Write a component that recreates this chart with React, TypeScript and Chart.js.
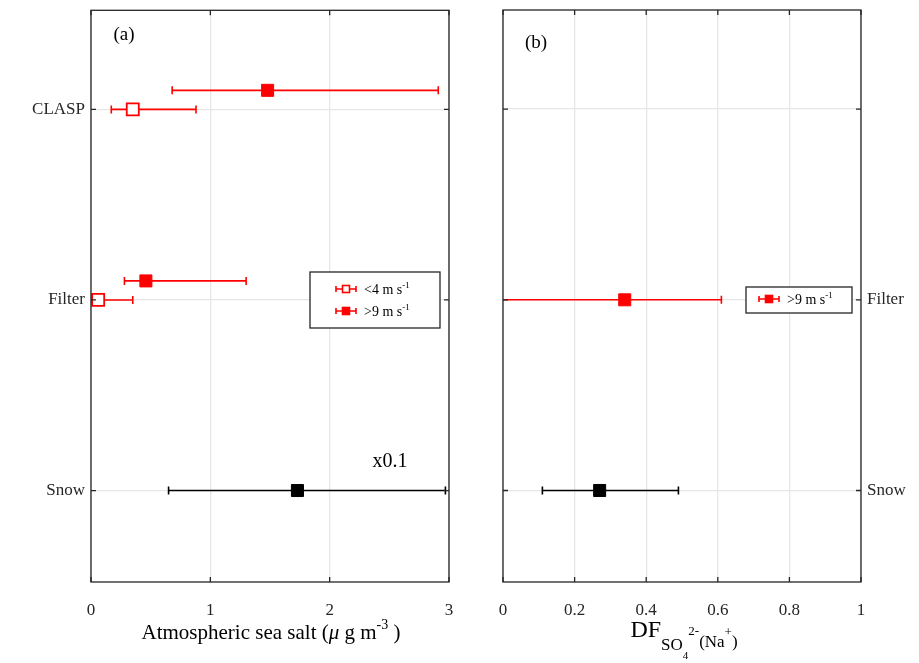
import React, { useEffect, useRef } from 'react';
import { Chart, registerables } from 'chart.js';

Chart.register(...registerables);

const FONT = 'Liberation Serif';
const RED = '#ff0000';

// y positions: Snow=1, Filter=2, CLASP=3; >9 m/s markers offset up by 0.1
const catLabelsA: Record<number, string> = { 1: 'Snow', 2: 'Filter', 3: 'CLASP' };
const catLabelsB: Record<number, string> = { 1: 'Snow', 2: 'Filter', 3: '' };
const offsetHigh = 0.1;

// panel (a): atmospheric sea salt
const aHighX = [1.48, 0.46];
const aHighY = [3, 2];
const aHighLo = [0.68, 0.28];
const aHighHi = [2.91, 1.3];
const aLowX = [0.35, 0.06];
const aLowY = [3, 2];
const aLowLo = [0.17, 0.0];
const aLowHi = [0.88, 0.35];
const aSnowX = [1.73];
const aSnowLo = [0.65];
const aSnowHi = [2.97];

// panel (b): DF
const bHighX = [0.34];
const bHighY = [2];
const bHighLo = [0.0];
const bHighHi = [0.61];
const bSnowX = [0.27];
const bSnowLo = [0.11];
const bSnowHi = [0.49];

type Seg = { t: string; size: number; dy: number; italic?: boolean };

function drawRich(ctx: CanvasRenderingContext2D, segs: Seg[], cx: number, y: number) {
  const font = (s: Seg) => `${s.italic ? 'italic ' : ''}${s.size}px ${FONT}`;
  let w = 0;
  segs.forEach((s) => { ctx.font = font(s); w += ctx.measureText(s.t).width; });
  let x = cx - w / 2;
  ctx.fillStyle = '#000';
  ctx.textBaseline = 'alphabetic';
  ctx.textAlign = 'left';
  segs.forEach((s) => {
    ctx.font = font(s);
    ctx.fillText(s.t, x, y + s.dy);
    x += ctx.measureText(s.t).width;
  });
}

function errorBars(chart: any) {
  const { ctx, scales } = chart;
  chart.data.datasets.forEach((ds: any) => {
    if (!ds.lo) return;
    ctx.save();
    ctx.strokeStyle = ds.borderColor;
    ctx.lineWidth = 1.6;
    ds.data.forEach((p: any, i: number) => {
      const y = scales.y.getPixelForValue(p.y);
      const x0 = Math.max(scales.x.getPixelForValue(ds.lo[i]), chart.chartArea.left);
      const x1 = scales.x.getPixelForValue(ds.hi[i]);
      ctx.beginPath();
      ctx.moveTo(x0, y); ctx.lineTo(x1, y);
      if (ds.lo[i] > scales.x.min) { ctx.moveTo(x0, y - 4); ctx.lineTo(x0, y + 4); }
      ctx.moveTo(x1, y - 4); ctx.lineTo(x1, y + 4);
      ctx.stroke();
    });
    ctx.restore();
  });
}

function legendItem(ctx: CanvasRenderingContext2D, x: number, y: number, filled: boolean, label: Seg[]) {
  ctx.save();
  ctx.strokeStyle = RED;
  ctx.lineWidth = 1.6;
  ctx.beginPath();
  ctx.moveTo(x, y); ctx.lineTo(x + 20, y);
  ctx.moveTo(x, y - 3); ctx.lineTo(x, y + 3);
  ctx.moveTo(x + 20, y - 3); ctx.lineTo(x + 20, y + 3);
  ctx.stroke();
  ctx.fillStyle = filled ? RED : '#fff';
  ctx.fillRect(x + 6.5, y - 3.5, 7, 7);
  ctx.strokeRect(x + 6.5, y - 3.5, 7, 7);
  ctx.restore();
  let w = 0;
  label.forEach((s) => { ctx.font = `${s.size}px ${FONT}`; w += ctx.measureText(s.t).width; });
  drawRich(ctx, label, x + 28 + w / 2, y + 5);
}

const boxPlugin = (extra: (ctx: CanvasRenderingContext2D, chart: any) => void) => ({
  id: 'box',
  beforeDatasetsDraw(chart: any) { errorBars(chart); },
  afterDraw(chart: any) {
    const { ctx, chartArea: a, scales } = chart;
    ctx.save();
    ctx.strokeStyle = '#262626';
    ctx.lineWidth = 1.3;
    ctx.strokeRect(a.left, a.top, a.right - a.left, a.bottom - a.top);
    ctx.beginPath();
    scales.x.ticks.forEach((t: any) => {
      const x = scales.x.getPixelForValue(t.value);
      ctx.moveTo(x, a.bottom); ctx.lineTo(x, a.bottom - 5);
      ctx.moveTo(x, a.top); ctx.lineTo(x, a.top + 5);
    });
    [1, 2, 3].forEach((v) => {
      const y = scales.y.getPixelForValue(v);
      ctx.moveTo(a.left, y); ctx.lineTo(a.left + 5, y);
      ctx.moveTo(a.right, y); ctx.lineTo(a.right - 5, y);
    });
    ctx.stroke();
    ctx.restore();
    extra(ctx, chart);
  },
});

function yScale(position: 'left' | 'right', width: number, labels: Record<number, string>) {
  return {
    position,
    min: 0.52,
    max: 3.52,
    afterFit: (s: any) => { s.width = width; s.paddingTop = 0; s.paddingBottom = 0; },
    afterBuildTicks: (s: any) => { s.ticks = [1, 2, 3].map((v) => ({ value: v })); },
    ticks: {
      callback: (v: any) => labels[v] ?? '',
      color: '#262626',
      font: { family: FONT, size: 17 },
      padding: 6,
    },
    grid: { color: '#e6e6e6', drawTicks: false, lineWidth: 1.3 },
    border: { display: false },
  };
}

function xScale(max: number, step: number) {
  return {
    type: 'linear' as const,
    min: 0,
    max,
    afterFit: (s: any) => { s.height = 81; s.paddingLeft = 0; s.paddingRight = 0; },
    ticks: {
      stepSize: step,
      color: '#262626',
      font: { family: FONT, size: 17 },
      padding: 18,
      callback: (v: any) => String(Math.round(v * 10) / 10),
    },
    grid: { color: '#e6e6e6', drawTicks: false, lineWidth: 1.3 },
    border: { display: false },
  };
}

function pts(xs: number[], ys: number[], dy: number) {
  return xs.map((x, i) => ({ x, y: ys[i] + dy }));
}

const ChartA = () => {
  const ref = useRef<HTMLCanvasElement>(null);
  useEffect(() => {
    if (!ref.current) return () => {};
    const chart = new Chart(ref.current, {
      type: 'scatter',
      data: {
        datasets: [
          { data: pts(aLowX, aLowY, 0), lo: aLowLo, hi: aLowHi, borderColor: RED, backgroundColor: '#fff', pointStyle: 'rect', pointRadius: 8.5, borderWidth: 1.8 } as any,
          { data: pts(aHighX, aHighY, offsetHigh), lo: aHighLo, hi: aHighHi, borderColor: RED, backgroundColor: RED, pointStyle: 'rect', pointRadius: 8.5, borderWidth: 1 } as any,
          { data: pts(aSnowX, [1], 0), lo: aSnowLo, hi: aSnowHi, borderColor: '#000', backgroundColor: '#000', pointStyle: 'rect', pointRadius: 8.5, borderWidth: 1 } as any,
        ],
      },
      options: {
        animation: false,
        responsive: false,
        layout: { padding: { top: 10, right: 21, left: 0, bottom: 0 } },
        plugins: { legend: { display: false }, tooltip: { enabled: false } },
        scales: { x: xScale(3, 1), y: yScale('left', 91, catLabelsA) as any },
      },
      plugins: [boxPlugin((ctx) => {
        drawRich(ctx, [{ t: '(a)', size: 19, dy: 0 }], 124, 40);
        drawRich(ctx, [{ t: 'x0.1', size: 20, dy: 0 }], 390, 467);
        ctx.save();
        ctx.fillStyle = '#fff';
        ctx.strokeStyle = '#262626';
        ctx.lineWidth = 1.3;
        ctx.fillRect(310, 272, 130, 56);
        ctx.strokeRect(310, 272, 130, 56);
        ctx.restore();
        legendItem(ctx, 336, 289, false, [{ t: '<4 m s', size: 14, dy: 0 }, { t: '-1', size: 9, dy: -6 }]);
        legendItem(ctx, 336, 311, true, [{ t: '>9 m s', size: 14, dy: 0 }, { t: '-1', size: 9, dy: -6 }]);
        drawRich(ctx, [
          { t: 'Atmospheric sea salt (', size: 21, dy: 0 },
          { t: 'μ', size: 21, dy: 0, italic: true },
          { t: ' g m', size: 21, dy: 0 },
          { t: '-3', size: 14, dy: -10 },
          { t: ' )', size: 21, dy: 0 },
        ], 271, 639);
      })],
    });
    return () => chart.destroy();
  }, []);
  return <canvas ref={ref} width={470} height={663} style={{ position: 'absolute', left: 0, top: 0 }} />;
};

const ChartB = () => {
  const ref = useRef<HTMLCanvasElement>(null);
  useEffect(() => {
    if (!ref.current) return () => {};
    const chart = new Chart(ref.current, {
      type: 'scatter',
      data: {
        datasets: [
          { data: pts(bHighX, bHighY, 0), lo: bHighLo, hi: bHighHi, borderColor: RED, backgroundColor: RED, pointStyle: 'rect', pointRadius: 8.5, borderWidth: 1 } as any,
          { data: pts(bSnowX, [1], 0), lo: bSnowLo, hi: bSnowHi, borderColor: '#000', backgroundColor: '#000', pointStyle: 'rect', pointRadius: 8.5, borderWidth: 1 } as any,
        ],
      },
      options: {
        animation: false,
        responsive: false,
        layout: { padding: { top: 10, left: 43, right: 0, bottom: 0 } },
        plugins: { legend: { display: false }, tooltip: { enabled: false } },
        scales: { x: xScale(1, 0.2), y: yScale('right', 58, catLabelsB) as any },
      },
      plugins: [boxPlugin((ctx) => {
        drawRich(ctx, [{ t: '(b)', size: 19, dy: 0 }], 536 - 460, 48);
        ctx.save();
        ctx.fillStyle = '#fff';
        ctx.strokeStyle = '#262626';
        ctx.lineWidth = 1.3;
        ctx.fillRect(746 - 460, 287, 106, 26);
        ctx.strokeRect(746 - 460, 287, 106, 26);
        ctx.restore();
        legendItem(ctx, 759 - 460, 299, true, [{ t: '>9 m s', size: 14, dy: 0 }, { t: '-1', size: 9, dy: -6 }]);
        drawRich(ctx, [
          { t: 'DF', size: 24, dy: 0 },
          { t: 'SO', size: 17, dy: 13 },
          { t: '4', size: 11, dy: 22 },
          { t: '2-', size: 13, dy: -2 },
          { t: '(Na', size: 17, dy: 10 },
          { t: '+', size: 13, dy: -1 },
          { t: ')', size: 17, dy: 10 },
        ], 684 - 460, 637);
      })],
    });
    return () => chart.destroy();
  }, []);
  return <canvas ref={ref} width={459} height={663} style={{ position: 'absolute', left: 460, top: 0 }} />;
};

export default function App() {
  useEffect(() => { document.body.style.margin = '0'; }, []);
  return (
    <div style={{ position: 'relative', width: 919, height: 663, background: '#fff' }}>
      <ChartA />
      <ChartB />
    </div>
  );
}
